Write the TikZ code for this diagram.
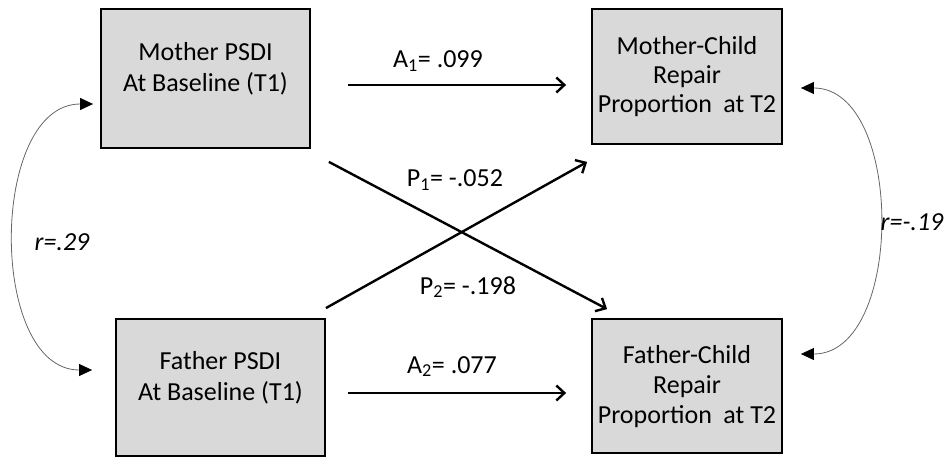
\documentclass[tikz,border=0pt]{standalone}
\usepackage{fontspec}
\setmainfont{Carlito}
\usetikzlibrary{arrows.meta}
\definecolor{boxgray}{RGB}{217,217,217}

\begin{document}
\begin{tikzpicture}[x=1pt,y=-1pt,
    box/.style={draw=black,line width=1.8pt,fill=boxgray,inner sep=0pt},
    boxtext/.style={align=center,font=\fontsize{26}{31}\selectfont},
    coef/.style={anchor=base,font=\fontsize{26}{30}\selectfont},
    path/.style={line width=2.4pt,-{Straight Barb[length=8pt,width=15pt,line width=2.4pt]}},
    corr/.style={gray!80!black,line width=0.8pt,
        {Triangle[length=13pt,width=12pt,color=black]}-{Triangle[length=13pt,width=12pt,color=black]}}]
    \useasboundingbox (0,0) rectangle (950,457);

    % T1 boxes (left) and T2 boxes (right)
    \node[box,minimum width=209pt,minimum height=139pt] (momBase) at (205.5,78.5) {};
    \node[box,minimum width=209pt,minimum height=137pt] (dadBase) at (220.5,387.5) {};
    \node[box,minimum width=190pt,minimum height=135pt] (momRepair) at (687,76.5) {};
    \node[box,minimum width=190pt,minimum height=134pt] (dadRepair) at (687,386) {};

    % box texts
    \node[boxtext] (momBaseTxt) at ([yshift=10]momBase.center) {Mother PSDI\\At Baseline (T1)};
    \node[boxtext] (dadBaseTxt) at ([yshift=10]dadBase.center) {Father PSDI\\At Baseline (T1)};
    \node[boxtext,font=\fontsize{26}{29}\selectfont] (momRepairTxt) at (momRepair.center) {Mother-Child\\Repair\\Proportion\;\,at T2};
    \node[boxtext,font=\fontsize{26}{30}\selectfont] (dadRepairTxt) at ([yshift=-1]dadRepair.center) {Father-Child\\Repair\\Proportion\;\,at T2};

    % paths
    \draw[path] ([shift={(37,6.5)}]momBase.east) -- ([shift={(-25,8.5)}]momRepair.west);
    \draw[path] ([shift={(22,5.5)}]dadBase.east) -- ([shift={(-25,7)}]dadRepair.west);
    \draw[path] ([shift={(18,13)}]momBase.south east) -- ([shift={(16,-9)}]dadRepair.north west);
    \draw[path] ([shift={(0,-10)}]dadBase.north east) -- ([shift={(-4,17)}]momRepair.south west);

    % coefficients
    \node[coef] (lblA1) at (438,68) {A\textsubscript{1}= .099};
    \node[coef] (lblP1) at (455,187) {P\textsubscript{1}= -.052};
    \node[coef] (lblP2) at (468,294) {P\textsubscript{2}= -.198};
    \node[coef] (lblA2) at (452,373) {A\textsubscript{2}= .077};

    % correlations
    \draw[corr] ([shift={(-7,25.5)}]momBase.west) to[out=180,in=180] ([shift={(-23,-17.5)}]dadBase.west);
    \draw[corr] ([shift={(18,11.5)}]momRepair.east) to[out=0,in=0] ([shift={(18,-32)}]dadRepair.east);
    \node[coef,font=\fontsize{26}{30}\selectfont\itshape] (lblR1) at (62,251) {r=.29};
    \node[coef,font=\fontsize{26}{30}\selectfont\itshape] (lblR2) at (912,230) {r=-.19};
\end{tikzpicture}
\end{document}
